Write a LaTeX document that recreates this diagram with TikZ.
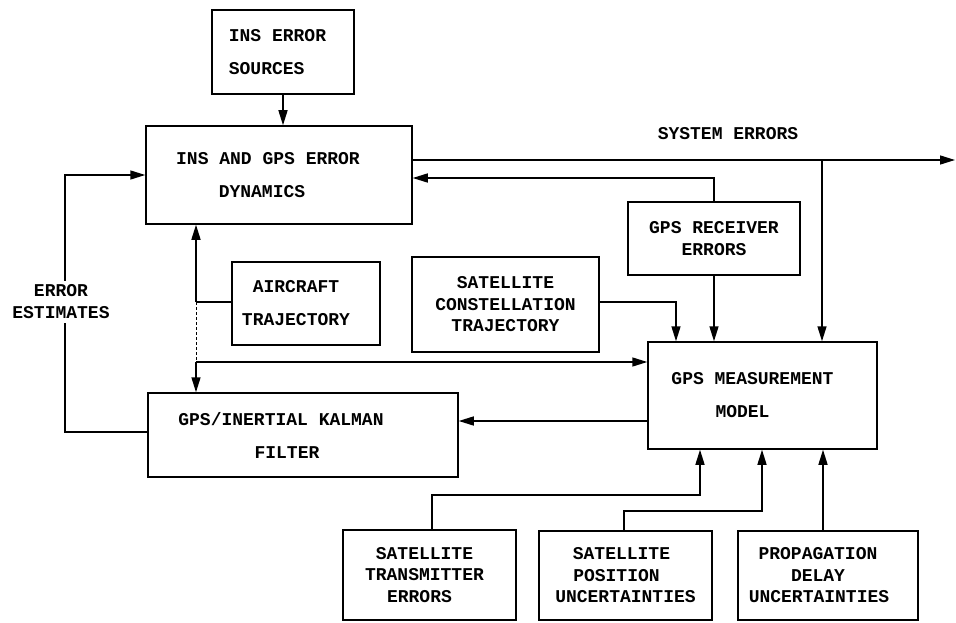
\documentclass[tikz,border=0pt]{standalone}
\usepackage{fontspec}
\newfontfamily\tw{Liberation Mono}
\usetikzlibrary{arrows.meta}
\newcommand{\lsh}[1]{\hbox to #1pt{}}
\tikzset{
  box/.style={draw, line width=1.5pt, inner sep=0pt, align=center,
    font=\tw\bfseries\fontsize{18}{33}\selectfont},
  lowbox/.style={box, font=\tw\bfseries\fontsize{18}{21.5}\selectfont},
  lbl/.style={inner sep=4pt, align=center, font=\tw\bfseries\fontsize{18}{22}\selectfont},
  conn/.style={line width=1.5pt},
  arr/.style={conn, -{Triangle[length=15pt,width=9pt]}},
  thinline/.style={line width=0.8pt, densely dashed}
}
\begin{document}
\begin{tikzpicture}[x=1pt,y=-1pt]
\useasboundingbox (0,0) rectangle (956,623);
% boxes
\node[box, align=left, minimum width=142, minimum height=84] (ins) at (283,52) {INS ERROR\lsh{11}\\SOURCES};
\node[box, minimum width=266, minimum height=98] (dyn) at (279,175) {INS AND GPS ERROR\lsh{22}\\DYNAMICS\lsh{34}};
\node[box, minimum width=148, minimum height=83] (air) at (306,303.5) {AIRCRAFT\lsh{20}\\TRAJECTORY\lsh{20}};
\node[lowbox, minimum width=187, minimum height=95] (con) at (505.5,304.5) {SATELLITE\\CONSTELLATION\\TRAJECTORY};
\node[lowbox, minimum width=172, minimum height=73] (rcv) at (714,238.5) {GPS RECEIVER\\ERRORS};
\node[box, minimum width=229, minimum height=107] (meas) at (762.5,395.5) {GPS MEASUREMENT\lsh{20}\\MODEL\lsh{40}};
\node[box, minimum width=310, minimum height=84] (kal) at (303,435) {GPS/INERTIAL KALMAN\lsh{44}\\FILTER\lsh{32}};
\node[lowbox, minimum width=173, minimum height=90] (tx) at (429.5,575) {SATELLITE\lsh{10}\\TRANSMITTER\lsh{10}\\ERRORS\lsh{20}};
\node[lowbox, minimum width=173, minimum height=89] (pos) at (625.5,575.5) {SATELLITE\lsh{8}\\POSITION\lsh{18}\\UNCERTAINTIES};
\node[lowbox, minimum width=180, minimum height=89] (prop) at (828,575.5) {PROPAGATION\lsh{20}\\DELAY\lsh{20}\\UNCERTAINTIES\lsh{18}};
% labels
\node[lbl] (est) at (61,302) {ERROR\\ESTIMATES};
\node[lbl] (sys) at (728,134) {SYSTEM ERRORS};
% level coordinates
\coordinate (ysys) at (0,160);
\coordinate (yrcv) at (0,178);
\coordinate (ycon) at (0,302);
\coordinate (ykf) at (0,421);
\coordinate (v1) at (196,302);
\coordinate (v2) at (196,362);
\coordinate (sysend) at (955,160);
\coordinate (sysdrop) at (822,160);
\coordinate (condrop) at (676,302);
\coordinate (txbend) at (700,495);
\coordinate (posbend) at (762,511);
% connectors
\draw[arr] (ins.south) -- (ins.south |- dyn.north);
\draw[conn] ([yshift=3pt]kal.west) -| ([xshift=4pt]est.south);
\draw[arr] ([xshift=4pt]est.north) |- (dyn.west);
\draw[arr] (v1) -- (v1 |- dyn.south);
\draw[conn] (v1 -| air.west) -- (v1);
\draw[thinline] (v1) -- (v2);
\draw[arr] (v2) -- (v2 |- kal.north);
\draw[arr] (v2) -- (v2 -| meas.west);
\draw[arr] (meas.west |- ykf) -- (kal.east |- ykf);
\draw[arr] (dyn.east |- ysys) -- (sysend);
\draw[arr] (sysdrop) -- (sysdrop |- meas.north);
\draw[arr] (rcv.north) |- (dyn.east |- yrcv);
\draw[arr] (rcv.south) -- (rcv.south |- meas.north);
\draw[arr] (con.east |- ycon) -- (condrop) -- (condrop |- meas.north);
\draw[arr] ([xshift=2.5pt]tx.north) |- (txbend) -- (txbend |- meas.south);
\draw[arr] ([xshift=-1.5pt]pos.north) |- (posbend) -- (posbend |- meas.south);
\draw[arr] ([xshift=-5pt]prop.north) -- ([xshift=-5pt]prop.north |- meas.south);
\end{tikzpicture}
\end{document}
